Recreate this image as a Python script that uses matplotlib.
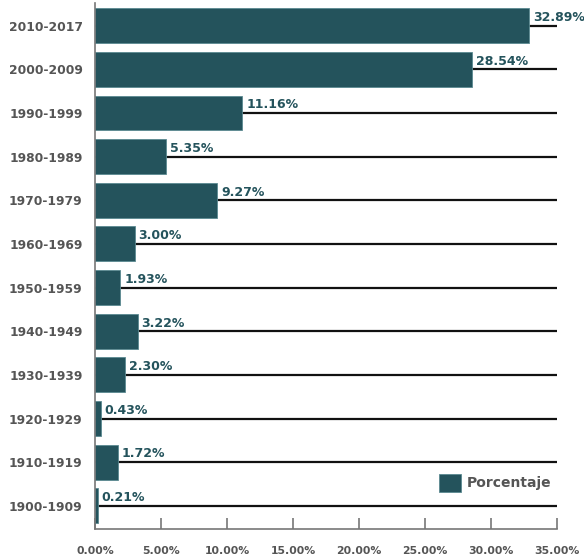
import matplotlib
matplotlib.use("Agg")
import matplotlib.pyplot as plt
import numpy as np

# data (top to bottom as in the picture)
decades = ["2010-2017", "2000-2009", "1990-1999", "1980-1989", "1970-1979",
           "1960-1969", "1950-1959", "1940-1949", "1930-1939", "1920-1929",
           "1910-1919", "1900-1909"]
percent = [32.89, 28.54, 11.16, 5.35, 9.27, 3.00, 1.93, 3.22, 2.30, 0.43,
           1.72, 0.21]
xticks = [0, 5, 10, 15, 20, 25, 30, 35]

bar_color = "#24535c"
axis_gray = "#777777"
label_gray = "#555555"

fig = plt.figure(figsize=(5.84, 5.6), dpi=100)
ax = fig.add_axes([0.1627, 0.0554, 0.7911, 0.9392])

y = np.arange(len(decades))[::-1]

# black guide lines at each category centre, behind the bars
for yi in y:
    ax.axhline(yi, color="#111111", linewidth=1.6, zorder=1)

ax.barh(y, percent, height=0.8, color=bar_color, edgecolor="#5b8a91",
        linewidth=0.6, zorder=2, label="Porcentaje")

for yi, v in zip(y, percent):
    ax.text(v + 0.3, yi + 0.04, f"{v:.2f}%", color=bar_color,
            fontsize=9, fontweight="bold", ha="left", va="bottom", zorder=3)

ax.set_xlim(0, 35)
ax.set_ylim(-0.53, 11.52)
ax.set_xticks(xticks)
ax.set_xticklabels([f"{t:.2f}%" for t in xticks])
ax.set_yticks(y)
ax.set_yticklabels(decades)

for s in ["top", "right"]:
    ax.spines[s].set_visible(False)
for s in ["left", "bottom"]:
    ax.spines[s].set_color(axis_gray)
    ax.spines[s].set_linewidth(1.2)

ax.tick_params(axis="x", direction="in", length=8, width=1.2,
               color=axis_gray, labelcolor=label_gray, labelsize=7.8, pad=12)
ax.tick_params(axis="y", length=0, labelcolor=label_gray, labelsize=8.8,
               pad=9)
for lab in ax.get_xticklabels() + ax.get_yticklabels():
    lab.set_fontweight("bold")

leg = ax.legend(loc="lower right", bbox_to_anchor=(1.0, 0.06), frameon=False,
                prop={"size": 10, "weight": "bold"}, handlelength=1.6,
                handleheight=1.6, handletextpad=0.4, borderaxespad=0)
for t in leg.get_texts():
    t.set_color(label_gray)

fig.savefig("out.png", dpi=100)
